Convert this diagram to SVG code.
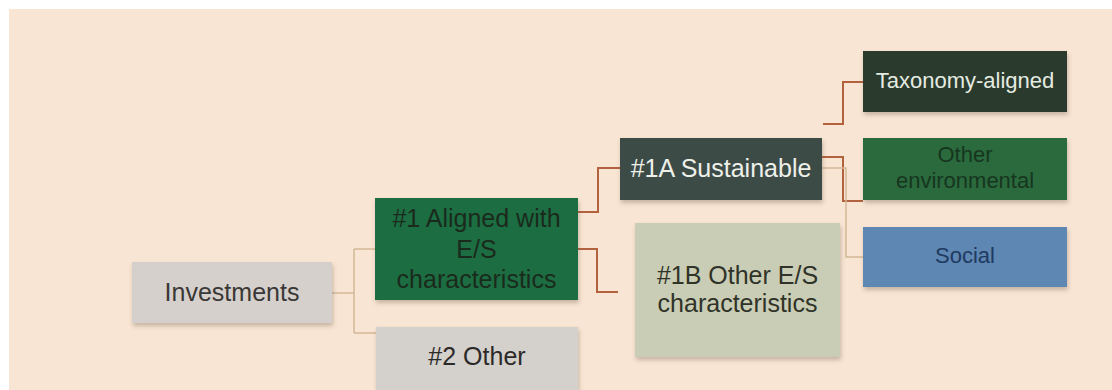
<svg xmlns="http://www.w3.org/2000/svg" width="1112" height="390" viewBox="0 0 1112 390">
  <defs>
    <filter id="sh" x="-5%" y="-10%" width="112%" height="130%">
      <feDropShadow dx="1" dy="3" stdDeviation="2" flood-color="#6b5a48" flood-opacity="0.35"/>
    </filter>
  </defs>
  <style>
    text { font-family: "Liberation Sans", Arial, sans-serif; text-anchor: middle; }
    .big { font-size: 25px; }
    .small { font-size: 22px; }
    .box { filter: url(#sh); }
    .red { fill: none; stroke: #b3623e; stroke-width: 2; }
    .tan { fill: none; stroke: #d2b898; stroke-width: 1.5; }
  </style>
  <rect x="0" y="0" width="1112" height="390" fill="#ffffff"/>
  <rect x="9" y="9" width="1103" height="381" fill="#f8e5d3"/>

  <g id="connectors">
    <path class="tan" d="M332,293 H354 M354,249 V333 M354,249 H375 M354,333 H376"/>
    <path class="red" d="M578,212 H598 V168 H620"/>
    <path class="red" d="M578,249 H597 V292 H618"/>
    <path class="red" d="M823,124 H843 V82 H863"/>
    <path class="red" d="M822,157 H843 V201 H863"/>
    <path class="tan" d="M822,168 H846 V257 H863"/>
  </g>

  <g id="investments">
    <rect class="box" x="132" y="262" width="200" height="61" fill="#d5d0cc"/>
    <text class="big" x="232" y="301" fill="#3a3836">Investments</text>
  </g>
  <g id="aligned">
    <rect class="box" x="375" y="198" width="203" height="102" fill="#1e6e43"/>
    <text class="big" fill="#1a2a1c"><tspan x="476.5" y="227">#1 Aligned with</tspan><tspan x="476.5" y="258">E/S</tspan><tspan x="476.5" y="288">characteristics</tspan></text>
  </g>
  <g id="other2">
    <rect class="box" x="376" y="327" width="202" height="70" fill="#d4d0cc"/>
    <text class="big" x="477" y="365" fill="#2c2a28">#2 Other</text>
  </g>
  <g id="sustainable">
    <rect class="box" x="620" y="138" width="202" height="62" fill="#3d4b47"/>
    <text class="big" x="721" y="177" fill="#eef0ea">#1A Sustainable</text>
  </g>
  <g id="other-es">
    <rect class="box" x="635" y="223" width="205" height="134" fill="#c9cdb5"/>
    <text class="big" fill="#2f3328"><tspan x="737.5" y="284">#1B Other E/S</tspan><tspan x="737.5" y="312">characteristics</tspan></text>
  </g>
  <g id="taxonomy">
    <rect class="box" x="863" y="51" width="204" height="61" fill="#2a3a2f"/>
    <text class="small" x="965" y="88" fill="#e6ebe2">Taxonomy-aligned</text>
  </g>
  <g id="other-env">
    <rect class="box" x="863" y="138" width="204" height="62" fill="#2a6b3d"/>
    <text class="small" fill="#17361f"><tspan x="965" y="162">Other</tspan><tspan x="965" y="188">environmental</tspan></text>
  </g>
  <g id="social">
    <rect class="box" x="863" y="227" width="204" height="60" fill="#5e87b4"/>
    <text class="small" x="965" y="263" fill="#1e3a60">Social</text>
  </g>
</svg>
